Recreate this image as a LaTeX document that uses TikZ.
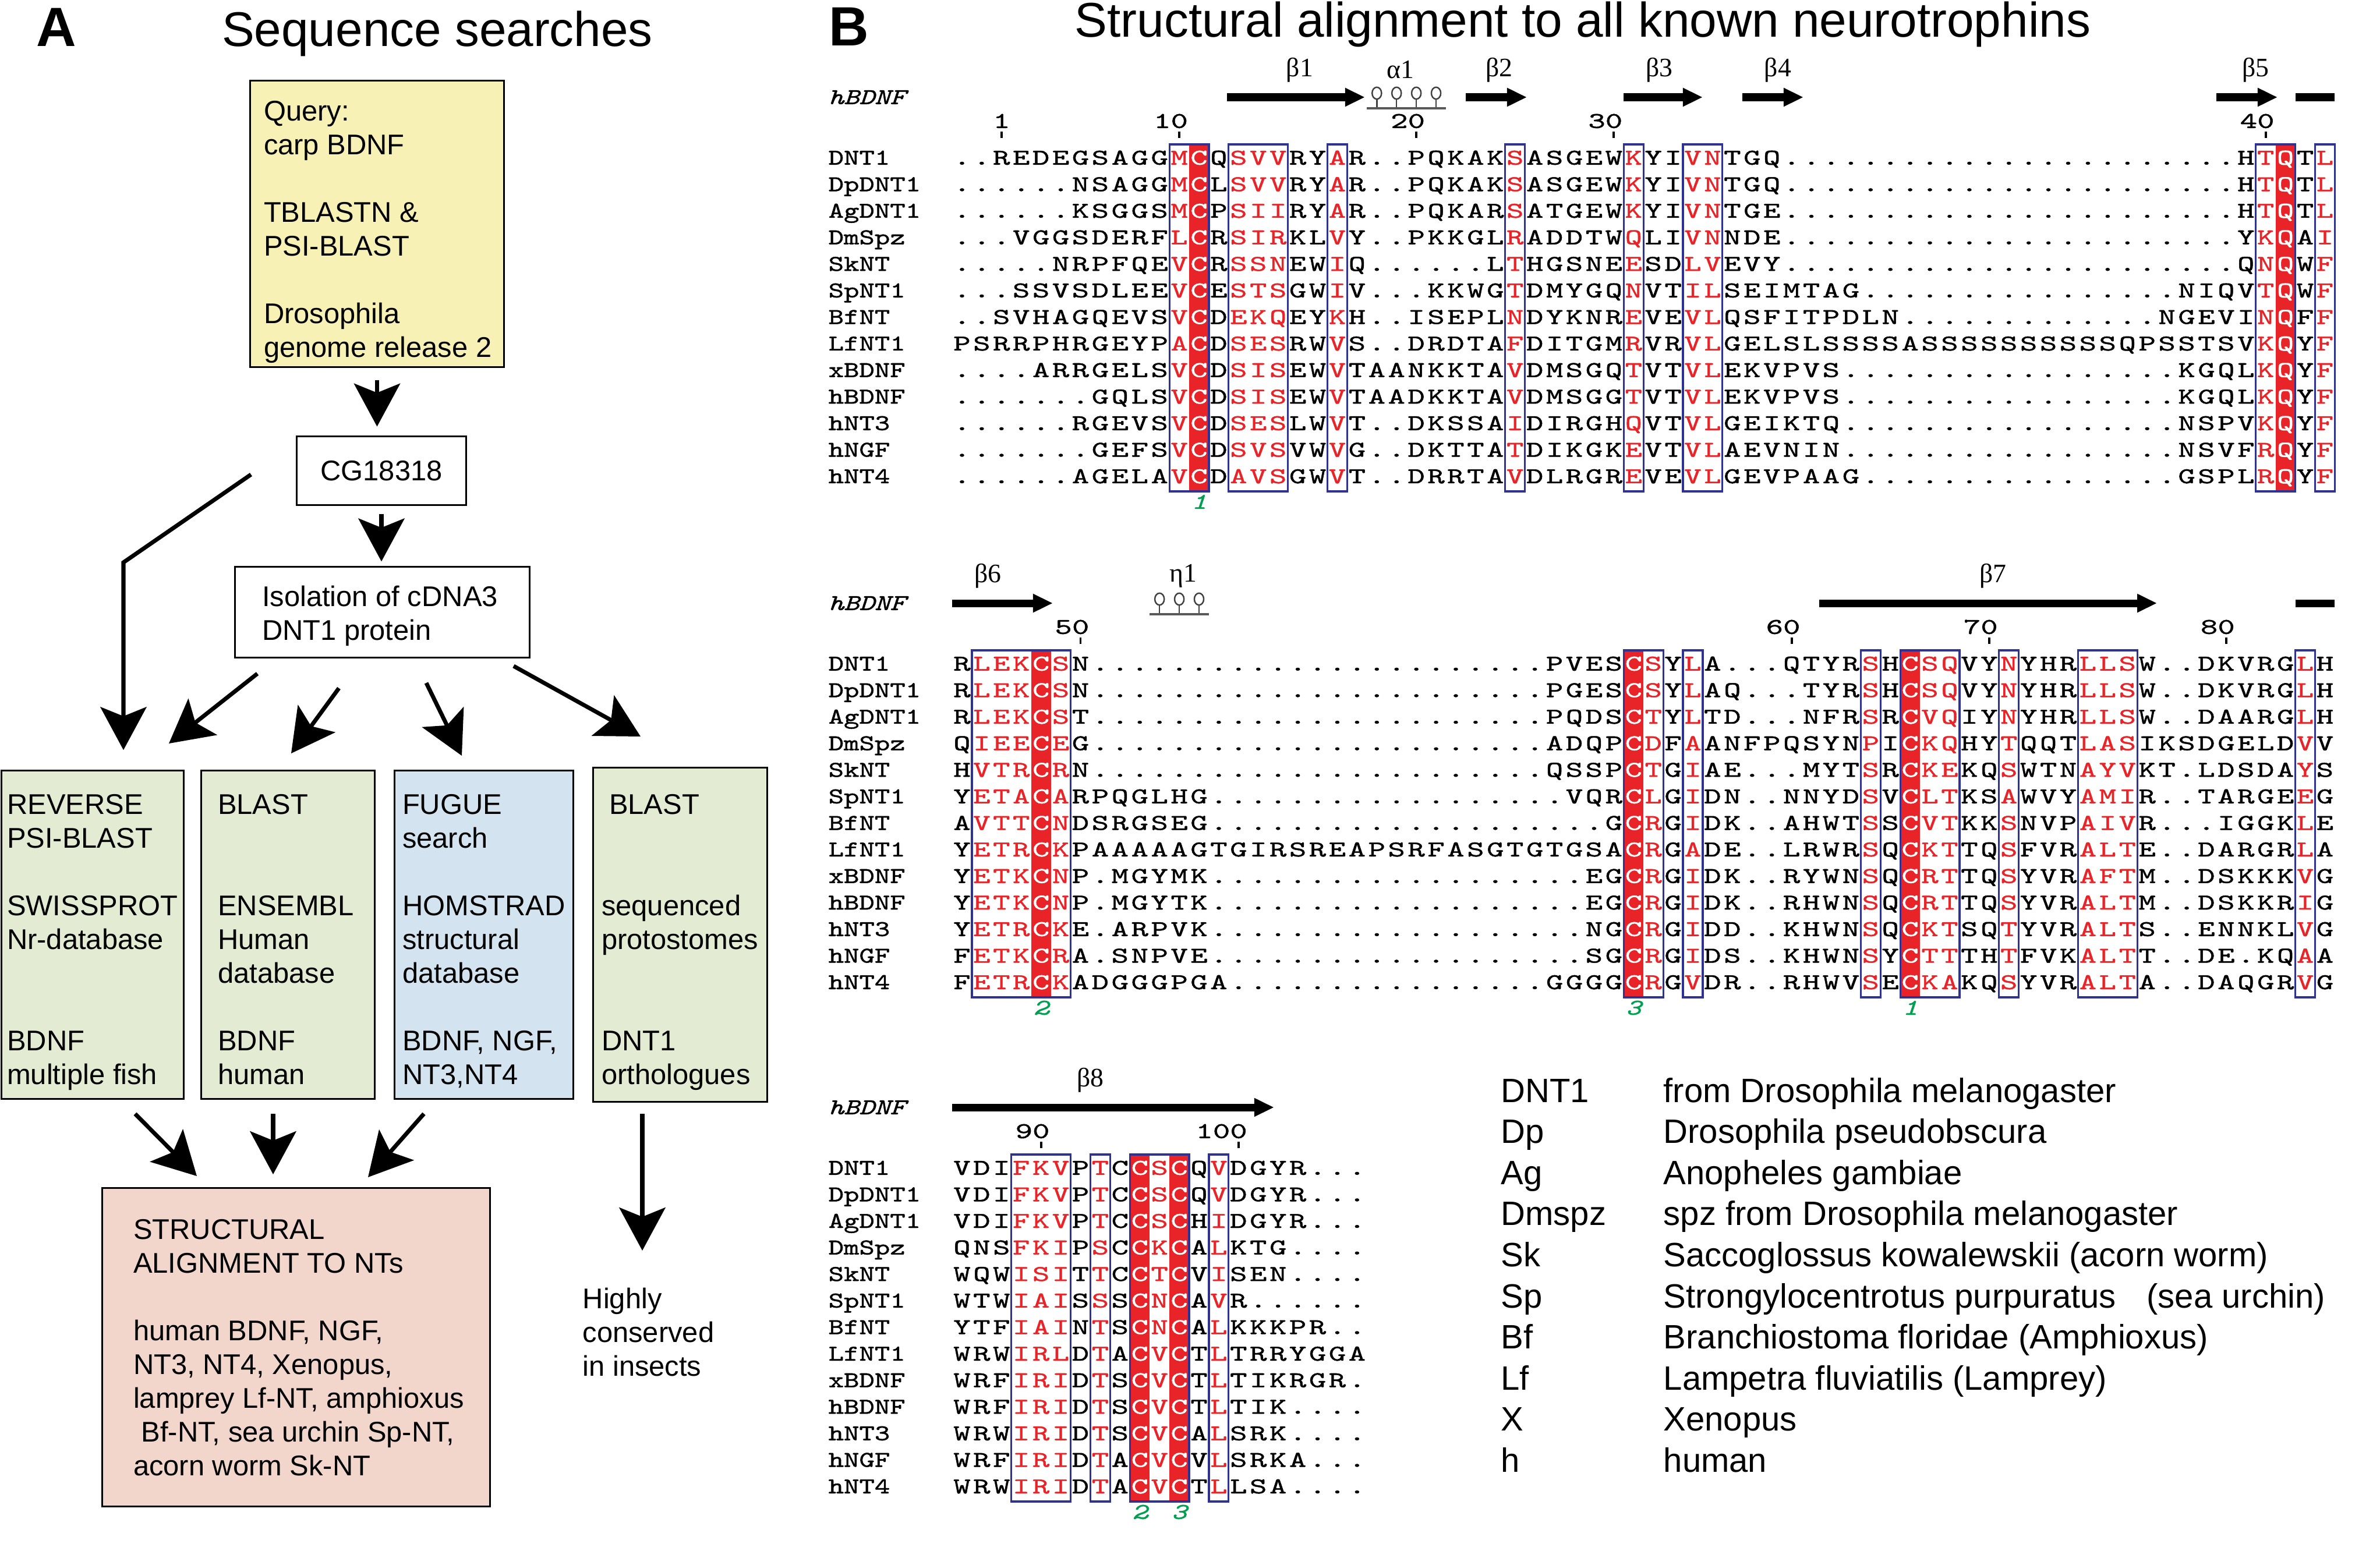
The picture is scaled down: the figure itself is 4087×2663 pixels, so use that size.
\documentclass[tikz,border=0pt]{standalone}
\usepackage{fontspec}
\setmainfont{Liberation Sans}
\newfontfamily\resfont[FakeStretch=1.45,FakeBold=1.2]{Latin Modern Mono}
\newfontfamily\namefont[FakeStretch=1.3,FakeBold=1.2]{Latin Modern Mono}
\newfontfamily\ssfont{Liberation Serif}
\usetikzlibrary{arrows.meta,decorations.pathmorphing,positioning}

\definecolor{boxyellow}{RGB}{248,241,181}
\definecolor{boxgreen}{RGB}{227,235,210}
\definecolor{boxblue}{RGB}{211,228,240}
\definecolor{boxpink}{RGB}{242,213,203}
\definecolor{espred}{RGB}{232,36,40}
\definecolor{espblue}{RGB}{46,50,146}
\definecolor{espgreen}{RGB}{0,160,80}

\newcommand\flowfont{\fontsize{13.9}{16.5}\selectfont}
\newcommand\resfontsize{\fontsize{11}{12}\selectfont}

% n dots for alignment gaps
\ExplSyntaxOn
\cs_new:Npn \dotgap #1 { \prg_replicate:nn {#1} {.} }
\ExplSyntaxOff

% residue colouring: rt = red letter in a frame, bg = white letter on red
\newcommand\markcols[3]{\foreach \c in {#3}{\expandafter\xdef\csname #1@#2@\c\endcsname{}}}
\markcols{rt}{1}{12,15,16,17,20,29,35,38,39,67,70}
\markcols{bg}{1}{13,68}
\markcols{rt}{2}{2,3,4,6,36,38,47,50,51,54,58,59,60,69}
\markcols{bg}{2}{5,35,49}
\markcols{rt}{3}{4,5,6,8,11,14}
\markcols{bg}{3}{10,12}

\newcount\rescol
\newcommand\alnrow[4]{%
  \pgfmathsetmacro\alny{\blocky+(#2-1)*45.6}%
  \node[seqname] (n#1-#2) at (-6.28,\alny) {#3};%
  \def\alnblk{#1}\def\alnrno{#2}\global\rescol=0
  \edef\alnseq{#4}\expandafter\alnnext\alnseq\relax}
\def\alnnext#1{\ifx#1\relax\else\global\advance\rescol by 1 \alnput{#1}\expandafter\alnnext\fi}
\def\alnput#1{%
  \ifcsname bg@\alnblk @\the\rescol\endcsname\def\rescolor{white}%
  \else\ifcsname rt@\alnblk @\the\rescol\endcsname\def\rescolor{espred}%
  \else\def\rescolor{black}\fi\fi
  \node[res,text=\rescolor] (r\alnblk-\alnrno-\the\rescol) at ({\the\rescol-0.5},\alny) {#1};}
% number above column, last digit on the column
\newcommand\seqnum[3]{\node[res,anchor=east] (num#3) at (#2-0.04,#1) {#3};
  \draw[line width=1.1pt] (#2-0.5,#1+18) -- (#2-0.5,#1+29);}

\tikzset{
  flowbox/.style={draw,line width=0.85pt,inner sep=0},
  flowtxt/.style={font=\flowfont,align=left,inner sep=0,anchor=north west},
  bigarrow/.style={line width=2pt,-{Stealth[length=21pt,width=22.5pt,inset=4.5pt]}},
  res/.style={inner sep=0,text height=6.7pt,text depth=0pt,font=\resfont\resfontsize},
  seqname/.style={inner sep=0,text height=6.7pt,text depth=0pt,anchor=west,font=\namefont\resfontsize},
  colframe/.style={draw=espblue,line width=0.9pt},
  strand/.style={line width=3.7pt,-{Triangle[length=9.7pt,width=8.5pt]}},
  strandbar/.style={line width=3.7pt},
  helixloop/.style={line width=0.7pt,draw=black!75},
  helixbase/.style={line width=1.4pt,draw=black!65},
  sslabel/.style={font=\ssfont\fontsize{13}{13}\selectfont,inner sep=0},
  cysnum/.style={inner sep=0,font=\namefont\itshape\resfontsize,text=espgreen},
  legtxt/.style={inner sep=0,anchor=base west,font=\fontsize{16.5}{16.5}\selectfont},
}

\begin{document}
\begin{tikzpicture}[x=0.01cm,y=-0.01cm]
\useasboundingbox (0,0) rectangle (4087,2663);

% A: sequence searches
\node[font=\bfseries\fontsize{27}{27}\selectfont,anchor=base west,inner sep=0] (labA) at (62,79) {A};
\node[font=\fontsize{23.8}{24}\selectfont,anchor=base,inner sep=0] (titleA) at (751,79) {Sequence searches};

\node[flowbox,fill=boxyellow,minimum width=4.35cm,minimum height=4.91cm] (query) at (647.5,384.5) {};
\node[flowtxt] (querytxt) at ([shift={(24,35)}]query.north west)
  {Query:\\carp BDNF\\~\\TBLASTN \&\\PSI-BLAST\\~\\Drosophila\\genome release 2};
\node[flowbox,font=\flowfont,minimum width=2.9cm,minimum height=1.17cm] (cg) at (655,808.5) {CG18318};
\node[flowbox,minimum width=5.05cm,minimum height=1.55cm] (iso) at (656.5,1051.5) {};
\node[flowtxt] (isotxt) at ([shift={(47,32.5)}]iso.north west) {Isolation of cDNA3\\DNT1 protein};

% search boxes
\node[flowbox,fill=boxgreen,minimum width=3.12cm,minimum height=5.63cm] (rev) at (159,1605.5) {};
\node[flowbox,fill=boxgreen,minimum width=2.97cm,minimum height=5.63cm] (blastA) at (494.5,1605.5) {};
\node[flowbox,fill=boxblue,minimum width=3.06cm,minimum height=5.63cm] (fugue) at (831,1605.5) {};
\node[flowbox,fill=boxgreen,minimum width=2.98cm,minimum height=5.73cm] (blastB) at (1168,1605.5) {};
\node[flowtxt] (revtxt) at ([shift={(10,41.5)}]rev.north west)
  {REVERSE\\PSI-BLAST\\~\\SWISSPROT\\Nr-database\\~\\~\\BDNF\\multiple fish};
\node[flowtxt] (blastAtxt) at ([shift={(29,41.5)}]blastA.north west)
  {BLAST\\~\\~\\ENSEMBL\\Human\\database\\~\\BDNF\\human};
\node[flowtxt] (fuguetxt) at ([shift={(14,41.5)}]fugue.north west)
  {FUGUE\\search\\~\\HOMSTRAD\\structural\\database\\~\\BDNF, NGF,\\NT3,NT4};
\node[flowtxt] (blastBtxt) at ([shift={(15,46.5)}]blastB.north west)
  {\hspace*{3.7pt}BLAST\\~\\~\\sequenced\\protostomes\\~\\~\\DNT1\\orthologues};

\node[flowbox,fill=boxpink,minimum width=6.65cm,minimum height=5.46cm] (struct) at (508.5,2314) {};
\node[flowtxt] (structtxt) at ([shift={(54,54.5)}]struct.north west)
  {STRUCTURAL\\ALIGNMENT TO NTs\\~\\human BDNF, NGF,\\NT3, NT4, Xenopus,\\lamprey Lf-NT, amphioxus\\
   \hspace*{3.9pt}Bf-NT, sea urchin Sp-NT,\\acorn worm Sk-NT};
\node[flowtxt] (conserved) at (1000,2211.5) {Highly\\conserved\\in insects};

% arrows
\draw[bigarrow,shorten <=6pt,shorten >=4.5pt] (query.south) -- (query.south |- cg.north);
\draw[bigarrow,shorten <=4pt,shorten >=2.3pt] (cg.south) -- (cg.south |- iso.north);
\coordinate (cgleft) at (431,815);
\coordinate (cgbend) at (212,966);
\draw[bigarrow,shorten >=9.7pt] (cgleft) -- (cgbend) -- (cgbend |- rev.north);
\coordinate (iso-o1) at (442,1157);   \coordinate (rev-i) at (290,1277);
\coordinate (iso-o2) at (582,1182);   \coordinate (blastA-i) at (500,1294);
\coordinate (iso-o3) at (732,1173);   \coordinate (fugue-i) at (793,1298);
\coordinate (iso-o4) at (882,1144);   \coordinate (blastB-i) at (1100,1265);
\draw[bigarrow] (iso-o1) -- (rev-i);
\draw[bigarrow] (iso-o2) -- (blastA-i);
\draw[bigarrow] (iso-o3) -- (fugue-i);
\draw[bigarrow] (iso-o4) -- (blastB-i);
\coordinate (rev-o) at (232,1913);    \coordinate (struct-i1) at (338,2020);
\coordinate (blastA-o) at (469,1913); \coordinate (struct-i2) at (469,2017);
\coordinate (fugue-o) at (728,1913);  \coordinate (struct-i3) at (632,2022);
\coordinate (blastB-o) at (1103,1913); \coordinate (conserved-i) at (1103,2148);
\draw[bigarrow] (rev-o) -- (struct-i1);
\draw[bigarrow] (blastA-o) -- (struct-i2);
\draw[bigarrow] (fugue-o) -- (struct-i3);
\draw[bigarrow] (blastB-o) -- (conserved-i);

% B: structural alignment
\node[font=\bfseries\fontsize{27}{27}\selectfont,anchor=base west,inner sep=0] (labB) at (1423,78) {B};
\node[font=\fontsize{23.8}{24}\selectfont,anchor=base,inner sep=0] (titleB) at (2718,63) {Structural alignment to all known neurotrophins};

\begin{scope}[shift={(1635,0)},x=0.339cm]
% block 1
\def\blocky{271}
\foreach \c in {13,68} \fill[espred] (\c-1,248) rectangle (\c,844);
\node[seqname,font=\namefont\itshape\resfontsize] (ss1) at (-6.28,167) {hBDNF};
\draw[strand] (13.9,167) -- (20.9,167);
\foreach \k in {21,...,24} {
  \draw[helixloop] (\k+0.5,160) ellipse [x radius=2.3pt,y radius=2.9pt];
  \draw[helixloop] (\k+0.5,170) -- (\k+0.5,184);
}
\draw[helixbase] (21,186) -- (25,186);
\draw[strand] (26,167) -- (29.1,167);
\draw[strand] (34,167) -- (38,167);
\draw[strand] (40,167) -- (43.1,167);
\draw[strand] (64,167) -- (67.1,167);
\draw[strandbar] (68,167) -- (70,167);
\node[sslabel] (lb1) at (17.6,120) {β1};
\node[sslabel] (la1) at (22.7,120) {α1};
\node[sslabel] (lb2) at (27.7,120) {β2};
\node[sslabel] (lb3) at (35.8,120) {β3};
\node[sslabel] (lb4) at (41.8,120) {β4};
\node[sslabel] (lb5) at (66,120) {β5};
\seqnum{208}{3}{1}
\seqnum{208}{12}{10}
\seqnum{208}{24}{20}
\seqnum{208}{34}{30}
\seqnum{208}{67}{40}
\alnrow{1}{1}{DNT1}{..REDEGSAGGMCQSVVRYAR..PQKAKSASGEWKYIVNTGQ\dotgap{23}HTQTL}
\alnrow{1}{2}{DpDNT1}{\dotgap{6}NSAGGMCLSVVRYAR..PQKAKSASGEWKYIVNTGQ\dotgap{23}HTQTL}
\alnrow{1}{3}{AgDNT1}{\dotgap{6}KSGGSMCPSIIRYAR..PQKARSATGEWKYIVNTGE\dotgap{23}HTQTL}
\alnrow{1}{4}{DmSpz}{...VGGSDERFLCRSIRKLVY..PKKGLRADDTWQLIVNNDE\dotgap{23}YKQAI}
\alnrow{1}{5}{SkNT}{\dotgap{5}NRPFQEVCRSSNEWIQ\dotgap{6}LTHGSNEESDLVEVY\dotgap{23}QNQWF}
\alnrow{1}{6}{SpNT1}{...SSVSDLEEVCESTSGWIV...KKWGTDMYGQNVTILSEIMTAG\dotgap{16}NIQVTQWF}
\alnrow{1}{7}{BfNT}{..SVHAGQEVSVCDEKQEYKH..ISEPLNDYKNREVEVLQSFITPDLN\dotgap{13}NGEVINQFF}
\alnrow{1}{8}{LfNT1}{PSRRPHRGEYPACDSESRWVS..DRDTAFDITGMRVRVLGELSLSSSSASSSSSSSSSSQPSSTSVKQYF}
\alnrow{1}{9}{xBDNF}{....ARRGELSVCDSISEWVTAANKKTAVDMSGQTVTVLEKVPVS\dotgap{17}KGQLKQYF}
\alnrow{1}{10}{hBDNF}{\dotgap{7}GQLSVCDSISEWVTAADKKTAVDMSGGTVTVLEKVPVS\dotgap{17}KGQLKQYF}
\alnrow{1}{11}{hNT3}{\dotgap{6}RGEVSVCDSESLWVT..DKSSAIDIRGHQVTVLGEIKTQ\dotgap{17}NSPVKQYF}
\alnrow{1}{12}{hNGF}{\dotgap{7}GEFSVCDSVSVWVG..DKTTATDIKGKEVTVLAEVNIN\dotgap{17}NSVFRQYF}
\alnrow{1}{13}{hNT4}{\dotgap{6}AGELAVCDAVSGWVT..DRRTAVDLRGREVEVLGEVPAAG\dotgap{16}GSPLRQYF}
\foreach \a/\b in {12/13,15/17,20/20,29/29,35/35,38/39,67/68,70/70}
  \draw[colframe] (\a-1,248) rectangle (\b,844);
\node[cysnum] (cys1a) at (12.5,862) {1};

% block 2
\def\blocky{1140}
\foreach \c in {5,35,49} \fill[espred] (\c-1,1117) rectangle (\c,1713);
\node[seqname,font=\namefont\itshape\resfontsize] (ss2) at (-6.28,1036) {hBDNF};
\draw[strand] (0,1036) -- (5.1,1036);
\foreach \k in {10,...,12} {
  \draw[helixloop] (\k+0.5,1029) ellipse [x radius=2.3pt,y radius=2.9pt];
  \draw[helixloop] (\k+0.5,1039) -- (\k+0.5,1053);
}
\draw[helixbase] (10,1055) -- (13,1055);
\draw[strand] (43.9,1036) -- (61,1036);
\draw[strandbar] (68,1036) -- (70,1036);
\node[sslabel] (lb6) at (1.8,989) {β6};
\node[sslabel] (le1) at (11.7,989) {η1};
\node[sslabel] (lb7) at (52.7,989) {β7};
\seqnum{1077}{7}{50}
\seqnum{1077}{43}{60}
\seqnum{1077}{53}{70}
\seqnum{1077}{65}{80}
\alnrow{2}{1}{DNT1}{RLEKCSN\dotgap{23}PVESCSYLA...QTYRSHCSQVYNYHRLLSW..DKVRGLH}
\alnrow{2}{2}{DpDNT1}{RLEKCSN\dotgap{23}PGESCSYLAQ...TYRSHCSQVYNYHRLLSW..DKVRGLH}
\alnrow{2}{3}{AgDNT1}{RLEKCST\dotgap{23}PQDSCTYLTD...NFRSRCVQIYNYHRLLSW..DAARGLH}
\alnrow{2}{4}{DmSpz}{QIEECEG\dotgap{23}ADQPCDFAANFPQSYNPICKQHYTQQTLASIKSDGELDVV}
\alnrow{2}{5}{SkNT}{HVTRCRN\dotgap{23}QSSPCTGIAE...MYTSRCKEKQSWTNAYVKT.LDSDAYS}
\alnrow{2}{6}{SpNT1}{YETACARPQGLHG\dotgap{18}VQRCLGIDN..NNYDSVCLTKSAWVYAMIR..TARGEEG}
\alnrow{2}{7}{BfNT}{AVTTCNDSRGSEG\dotgap{20}GCRGIDK..AHWTSSCVTKKSNVPAIVR...IGGKLE}
\alnrow{2}{8}{LfNT1}{YETRCKPAAAAAGTGIRSREAPSRFASGTGTGSACRGADE..LRWRSQCKTTQSFVRALTE..DARGRLA}
\alnrow{2}{9}{xBDNF}{YETKCNP.MGYMK\dotgap{19}EGCRGIDK..RYWNSQCRTTQSYVRAFTM..DSKKKVG}
\alnrow{2}{10}{hBDNF}{YETKCNP.MGYTK\dotgap{19}EGCRGIDK..RHWNSQCRTTQSYVRALTM..DSKKRIG}
\alnrow{2}{11}{hNT3}{YETRCKE.ARPVK\dotgap{19}NGCRGIDD..KHWNSQCKTSQTYVRALTS..ENNKLVG}
\alnrow{2}{12}{hNGF}{FETKCRA.SNPVE\dotgap{19}SGCRGIDS..KHWNSYCTTTHTFVKALTT..DE.KQAA}
\alnrow{2}{13}{hNT4}{FETRCKADGGGPGA\dotgap{16}GGGGCRGVDR..RHWVSECKAKQSYVRALTA..DAQGRVG}
\foreach \a/\b in {2/6,35/36,38/38,47/47,49/51,54/54,58/60,69/69}
  \draw[colframe] (\a-1,1117) rectangle (\b,1713);
\node[cysnum] (cys2a) at (4.5,1731) {2};
\node[cysnum] (cys3a) at (34.5,1731) {3};
\node[cysnum] (cys1b) at (48.5,1731) {1};

% block 3
\def\blocky{2006}
\foreach \c in {10,12} \fill[espred] (\c-1,1983) rectangle (\c,2579);
\node[seqname,font=\namefont\itshape\resfontsize] (ss3) at (-6.28,1902) {hBDNF};
\draw[strand] (0,1902) -- (16.3,1902);
\node[sslabel] (lb8) at (7,1855) {β8};
\seqnum{1943}{5}{90}
\seqnum{1943}{15}{100}
\alnrow{3}{1}{DNT1}{VDIFKVPTCCSCQVDGYR...}
\alnrow{3}{2}{DpDNT1}{VDIFKVPTCCSCQVDGYR...}
\alnrow{3}{3}{AgDNT1}{VDIFKVPTCCSCHIDGYR...}
\alnrow{3}{4}{DmSpz}{QNSFKIPSCCKCALKTG....}
\alnrow{3}{5}{SkNT}{WQWISITTCCTCVISEN....}
\alnrow{3}{6}{SpNT1}{WTWIAISSSCNCAVR......}
\alnrow{3}{7}{BfNT}{YTFIAINTSCNCALKKKPR..}
\alnrow{3}{8}{LfNT1}{WRWIRLDTACVCTLTRRYGGA}
\alnrow{3}{9}{xBDNF}{WRFIRIDTSCVCTLTIKRGR.}
\alnrow{3}{10}{hBDNF}{WRFIRIDTSCVCTLTIK....}
\alnrow{3}{11}{hNT3}{WRWIRIDTSCVCALSRK....}
\alnrow{3}{12}{hNGF}{WRFIRIDTACVCVLSRKA...}
\alnrow{3}{13}{hNT4}{WRWIRIDTACVCTLLSA....}
\foreach \a/\b in {4/6,8/8,10/12,14/14}
  \draw[colframe] (\a-1,1983) rectangle (\b,2579);
\node[cysnum] (cys2b) at (9.5,2597) {2};
\node[cysnum] (cys3b) at (11.5,2597) {3};
\end{scope}

% species legend
\foreach \ab/\full [count=\k from 0] in {DNT1/from Drosophila melanogaster,Dp/Drosophila pseudobscura,
    Ag/Anopheles gambiae,Dmspz/spz from Drosophila melanogaster,Sk/Saccoglossus kowalewskii (acorn worm),
    Sp/Strongylocentrotus purpuratus\hspace{15pt}(sea urchin),Bf/Branchiostoma floridae (Amphioxus),
    Lf/Lampetra fluviatilis (Lamprey),X/Xenopus,h/human} {
  \node[legtxt] (lgab\k) at (2577,1893+\k*70.6) {\ab};
  \node[legtxt] (lgfull\k) at (2856,1893+\k*70.6) {\full};
}
\end{tikzpicture}
\end{document}
